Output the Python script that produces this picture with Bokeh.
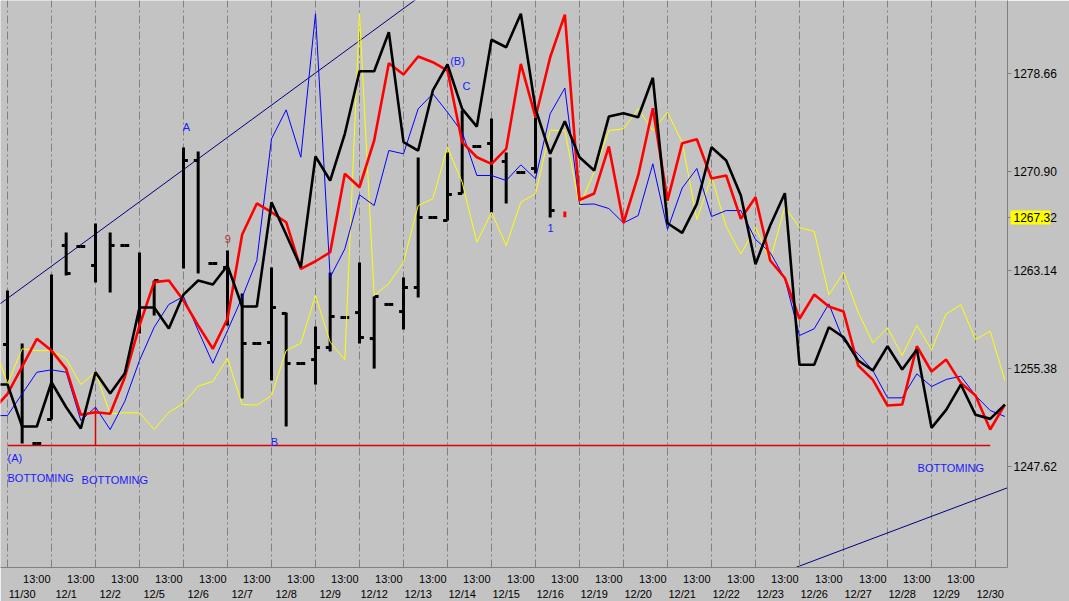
from bokeh.plotting import figure
from bokeh.models import FixedTicker, LinearAxis, Range1d, PrintfTickFormatter, ColumnDataSource
from bokeh.core.properties import value
from bokeh.embed import file_html
from bokeh.resources import INLINE

nan = float("nan")

# ---- data (bar index k: 3 bars per trading day) ----
dates = ["11/30", "12/1", "12/2", "12/5", "12/6", "12/7", "12/8", "12/9", "12/12", "12/13",
         "12/14", "12/15", "12/16", "12/19", "12/20", "12/21", "12/22", "12/23", "12/26",
         "12/27", "12/28", "12/29", "12/30"]
price_ticks = [1247.62, 1255.38, 1263.14, 1270.90, 1278.66]
last_price = 1267.32

k = list(range(-1, 69))
black = [1254.11, 1254.11, 1250.80, 1250.80, 1254.29, 1252.32, 1250.64, 1255.08, 1253.40, 1255.00,
         1260.19, 1260.19, 1258.53, 1261.21, 1262.32, 1262.00, 1263.50, 1260.27, 1260.27, 1268.50,
         1265.95, 1263.37, 1272.11, 1270.21, 1273.90, 1278.84, 1278.84, 1281.92, 1273.24, 1272.58,
         1277.32, 1279.37, 1275.87, 1274.47, 1281.32, 1280.73, 1283.37, 1275.87, 1272.32, 1274.89,
         1272.05, 1271.00, 1275.26, 1275.52, 1275.21, 1278.32, 1266.84, 1266.08, 1268.37, 1272.84,
         1271.79, 1269.03, 1263.60, 1266.66, 1269.21, 1255.67, 1255.67, 1258.63, 1257.84, 1256.01,
         1255.22, 1257.13, 1255.30, 1256.87, 1250.69, 1252.11, 1254.11, 1251.72, 1251.40, 1252.53]
red = [1252.06, 1253.38, 1255.53, 1257.72, 1256.79, 1255.35, 1251.72, 1251.92, 1251.80, 1254.69,
       1258.77, 1262.19, 1262.32, 1260.74, 1258.77, 1256.93, 1259.30, 1265.95, 1268.40, 1267.71,
       1266.92, 1263.24, 1263.84, 1264.55, 1270.74, 1269.68, 1273.37, 1279.47, 1278.58, 1280.00,
       1279.55, 1278.89, 1273.24, 1272.05, 1271.53, 1272.71, 1279.42, 1275.21, 1279.94, 1283.31,
       1268.67, 1269.19, 1272.90, 1266.86, 1270.61, 1275.92, 1268.63, 1273.16, 1273.47, 1270.37,
       1270.61, 1267.19, 1268.89, 1263.90, 1262.52, 1259.30, 1261.21, 1260.27, 1259.87, 1255.61,
       1254.48, 1252.45, 1252.53, 1257.13, 1255.14, 1256.08, 1254.24, 1253.24, 1250.56, 1252.53]
blue = [1251.66, 1251.66, 1253.38, 1255.08, 1255.27, 1255.08, 1251.27, 1252.32, 1250.56, 1252.79,
        1256.01, 1258.63, 1260.43, 1261.06, 1258.37, 1255.79, 1258.37, 1261.00, 1263.90, 1273.50,
        1275.79, 1272.05, 1283.39, 1262.58, 1264.82, 1269.08, 1268.24, 1272.58, 1272.32, 1275.87,
        1277.06, 1275.60, 1274.03, 1270.61, 1270.61, 1270.21, 1271.45, 1270.35, 1275.48, 1277.51,
        1268.32, 1268.36, 1268.00, 1266.86, 1267.45, 1271.53, 1266.35, 1269.62, 1271.16, 1267.37,
        1267.84, 1267.84, 1265.56, 1264.53, 1262.48, 1257.98, 1258.51, 1260.48, 1257.58, 1256.53,
        1255.22, 1253.06, 1253.06, 1254.96, 1253.95, 1254.51, 1254.77, 1253.24, 1252.06, 1251.59]
yellow = [1257.58, 1254.17, 1256.93, 1256.79, 1256.79, 1256.14, 1254.11, 1255.08, 1251.80, 1251.88,
          1251.88, 1250.56, 1251.92, 1252.64, 1253.98, 1254.35, 1256.19, 1252.53, 1252.49, 1253.24,
          1256.79, 1257.37, 1261.14, 1257.45, 1256.06, 1283.37, 1261.14, 1262.08, 1263.76, 1268.24,
          1268.77, 1272.84, 1270.08, 1265.34, 1267.71, 1265.08, 1268.50, 1269.16, 1274.18, 1274.16,
          1268.20, 1270.87, 1274.16, 1274.29, 1275.87, 1274.16, 1275.60, 1273.24, 1267.13, 1270.53,
          1266.58, 1264.41, 1266.53, 1263.90, 1268.14, 1266.49, 1266.21, 1261.19, 1262.97, 1259.82,
          1257.40, 1258.59, 1256.40, 1258.77, 1256.85, 1259.69, 1260.40, 1257.66, 1258.32, 1254.43]

# OHLC bars (nan = no tick)
bar_k = [0, 1, 2, 3, 4, 5, 6, 7, 8, 9, 10, 12, 13, 14, 15, 16, 17, 18, 19, 20, 21, 22, 23, 24,
         25, 26, 27, 28, 29, 30, 31, 32, 33, 34, 35, 36, 37]
bar_high = [1261.53, 1257.35, 1249.45, 1262.79, 1266.11, 1265.00, 1266.82, 1266.11, 1265.08, 1264.53,
            1262.32, 1272.82, 1272.50, 1263.66, 1264.69, 1261.29, 1257.35, 1263.35, 1259.79, 1255.77,
            1258.69, 1262.95, 1259.40, 1263.74, 1261.06, 1260.43, 1262.56, 1272.03, 1267.29, 1272.42,
            1275.74, 1272.90, 1275.11, 1272.42, 1270.84, 1275.19, 1272.03]
bar_low = [1254.27, 1249.45, 1249.45, 1251.35, 1262.71, 1265.00, 1262.16, 1261.37, 1265.08, 1258.14,
           1259.56, 1263.27, 1262.87, 1263.66, 1258.77, 1253.01, 1257.35, 1254.43, 1250.80, 1255.77,
           1254.11, 1256.72, 1259.40, 1257.35, 1255.37, 1260.43, 1258.45, 1260.98, 1267.29, 1267.06,
           1269.19, 1272.90, 1267.69, 1268.40, 1270.84, 1270.77, 1267.29]
bar_open = [1257.27, nan, 1249.45, 1251.35, 1265.08, 1265.00, 1263.50, nan, 1265.08, nan,
            nan, nan, 1271.79, 1263.66, 1263.35, nan, 1257.35, 1257.43, 1259.72, 1255.77,
            1256.08, 1257.03, 1259.40, 1259.79, 1257.74, 1260.43, 1259.87, 1261.77, 1267.29, 1267.06,
            1269.19, 1272.90, 1273.13, 1271.71, 1270.84, 1271.16, nan]
bar_close = [nan, nan, 1249.45, nan, 1262.87, 1265.00, nan, 1265.08, 1265.08, nan,
             1262.32, 1271.79, nan, 1263.66, nan, 1257.35, 1257.35, 1260.19, 1255.77, 1255.77,
             1257.03, 1259.48, 1259.40, 1257.82, 1261.06, 1260.43, 1261.77, 1267.29, 1267.29, 1269.11,
             nan, 1272.90, nan, nan, 1270.84, nan, 1267.84]

# current (red) bar
cur_k = [38]
cur_high = [1267.77]
cur_low = [last_price]

# trend lines and markers
trend_up_k = [-1, 30]
trend_up_v = [1260.06, 1286.33]
trend_dn_k = [53, 69]
trend_dn_v = [1239.35, 1246.32]
base_k = [0, 67]
base_v = [1249.30, 1249.30]
mark_k = [6, 6]
mark_v = [1249.30, 1252.30]

ann_text = ["A", "B", "(B)", "C", "1"]
ann_k = [12.2, 18.2, 30.68, 31.3, 37.02]
ann_v = [1274.47, 1249.61, 1279.61, 1277.71, 1266.50]
left_text = ["(A)", "BOTTOMING", "BOTTOMING", "BOTTOMING"]
left_k = [0, 0, 5.05, 62.05]
left_v = [1248.35, 1246.77, 1246.61, 1247.56]

# ---- figure ----
BG = "#c3c3c3"
GRAY = "#808080"
FONT = "Liberation Sans"
TXT_BLUE = "#1a1aff"

p = figure(frame_width=1007, frame_height=567, output_backend="svg", toolbar_location=None,
           x_range=Range1d(-0.477, 68.18), y_range=Range1d(1239.67, 1284.42),
           y_axis_location="right", min_border_left=0, min_border_top=0,
           min_border_right=62, min_border_bottom=34)
p.background_fill_color = BG
p.border_fill_color = BG
p.outline_line_color = None

n_days = len(dates)
grid_ticks = [3 * d for d in range(n_days)]
time_ticks = [3 * d + 2 for d in range(n_days - 1)]
date_ticks = [3 * d + 1 for d in range(n_days)]

p.ygrid.visible = False
p.xgrid.ticker = FixedTicker(ticks=grid_ticks)
p.xgrid.grid_line_color = GRAY
p.xgrid.grid_line_dash = "8 3 2 3"
p.xgrid.grid_line_width = 1

xa = p.xaxis[0]
xa.ticker = FixedTicker(ticks=time_ticks, minor_ticks=grid_ticks)
xa.major_label_overrides = {t: "13:00" for t in time_ticks}
xa.major_tick_in = 0
xa.major_tick_out = 0
xa.minor_tick_in = 4
xa.minor_tick_out = 0
xa.minor_tick_line_color = GRAY
xa.axis_line_color = GRAY
xa.major_label_text_font = FONT
xa.major_label_text_font_size = "11px"
xa.major_label_text_color = "black"
xa.major_label_standoff = 5

da = LinearAxis(ticker=FixedTicker(ticks=date_ticks),
                major_label_overrides={t: d for t, d in zip(date_ticks, dates)})
da.axis_line_color = None
da.major_tick_line_color = None
da.minor_tick_line_color = None
da.major_label_text_font = FONT
da.major_label_text_font_size = "11px"
da.major_label_text_color = "black"
da.major_label_standoff = -6
p.add_layout(da, "below")

# price axis; the last price is highlighted by a wide yellow minor tick behind its label
ya = p.yaxis[0]
ya.ticker = FixedTicker(ticks=price_ticks + [last_price], minor_ticks=[last_price])
ya.formatter = PrintfTickFormatter(format="%.2f")
ya.axis_line_color = GRAY
ya.major_tick_line_color = GRAY
ya.major_tick_in = 0
ya.major_tick_out = 4
ya.minor_tick_line_color = "#ffff00"
ya.minor_tick_line_width = 14
ya.minor_tick_in = -3
ya.minor_tick_out = 43
ya.major_label_text_font = FONT
ya.major_label_text_font_size = "12px"
ya.major_label_text_color = "black"
ya.major_label_standoff = -37

# reference lines
p.line(trend_up_k, trend_up_v, line_color="#000080", line_width=1)
p.line(trend_dn_k, trend_dn_v, line_color="#000080", line_width=1)
p.line(base_k, base_v, line_color="#dd0000", line_width=1.5)
p.line(mark_k, mark_v, line_color="#dd0000", line_width=1.5)

# OHLC bars
src = ColumnDataSource(dict(k=bar_k, hi=bar_high, lo=bar_low, op=bar_open, cl=bar_close,
                            kl=[x - 0.3 for x in bar_k], kr=[x + 0.3 for x in bar_k]))
p.segment(x0="k", y0="lo", x1="k", y1="hi", source=src, line_color="black", line_width=3,
          line_cap="butt")
p.segment(x0="kl", y0="op", x1="k", y1="op", source=src, line_color="black", line_width=3,
          line_cap="butt")
p.segment(x0="k", y0="cl", x1="kr", y1="cl", source=src, line_color="black", line_width=3,
          line_cap="butt")
p.segment(x0=cur_k, y0=cur_low, x1=cur_k, y1=cur_high, line_color="red", line_width=3)

# indicator lines
p.line(k, yellow, line_color="#ffff00", line_width=1)
p.line(k, blue, line_color="#0000ff", line_width=1)
p.line(k, red, line_color="#ff0000", line_width=2.6)
p.line(k, black, line_color="black", line_width=2.6)

# annotations
p.text(x=ann_k, y=ann_v, text=ann_text, text_color=TXT_BLUE, text_font=value(FONT),
       text_font_size="11px", text_align="center", text_baseline="middle")
p.text(x=[15.02], y=[1265.56], text=["9"], text_color="#b03030", text_font=value(FONT),
       text_font_size="11px", text_align="center", text_baseline="middle")
p.text(x=left_k, y=left_v, text=left_text, text_color=TXT_BLUE, text_font=value(FONT),
       text_font_size="11px", text_align="left", text_baseline="middle")

open("out.html", "w").write(file_html(p, INLINE))
